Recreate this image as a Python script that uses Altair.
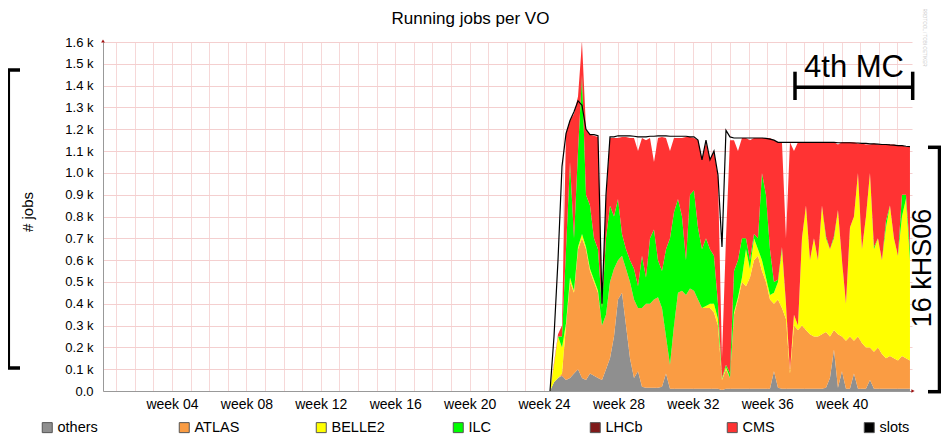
import altair as alt
import pandas as pd

FONT = "Liberation Sans"

# ---- time grid (ISO week number, fractional) ----
t_start = 24.32
t_step = 0.215

# ---- running jobs per VO ----
others = [0, 40, 60, 70, 50, 60, 80, 100, 60, 50,
          80, 70, 60, 50, 100, 150, 250, 420, 450, 300,
          150, 60, 90, 20, 15, 15, 15, 15, 20, 80,
          10, 10, 10, 10, 10, 10, 10, 10, 10, 10,
          10, 10, 10, 5, 10, 10, 10, 10, 10, 10,
          10, 10, 10, 10, 10, 10, 90, 15, 10, 10,
          10, 10, 10, 10, 10, 10, 10, 10, 10, 15,
          60, 190, 15, 90, 10, 10, 80, 10, 10, 10,
          50, 10, 10, 10, 10, 10, 10, 10, 10, 10, 10]
atlas = [0, 0, 0, 10, 250, 440, 370, 550, 640, 600,
         470, 430, 390, 250, 250, 350, 310, 180, 170, 260,
         350, 360, 290, 360, 385, 385, 405, 415, 360, 170,
         110, 290, 440, 450, 430, 460, 450, 410, 370, 370,
         370, 350, 290, 45, 90, 50, 340, 410, 490, 470,
         510, 590, 610, 540, 490, 410, 310, 405, 370, 320,
         70, 290, 270, 290, 270, 250, 240, 240, 250, 255,
         190, 90, 245, 160, 220, 240, 150, 240, 210, 190,
         150, 170, 190, 160, 140, 150, 140, 130, 150, 140, 130]
belle2 = [0, 80, 190, 120, 10, 20, 10, 10, 20, 10,
          10, 10, 10, 0, 0, 0, 0, 0, 0, 0,
          0, 0, 0, 0, 0, 0, 0, 0, 0, 0,
          0, 0, 0, 0, 0, 0, 0, 0, 0, 10,
          20, 40, 30, 5, 10, 0, 10, 10, 20, 170,
          40, 100, 30, 50, 20, 20, 50, 80, 270, 70,
          10, 50, 20, 400, 570, 340, 450, 350, 590, 430,
          400, 420, 570, 350, 170, 500, 570, 750, 430, 600,
          800, 470, 500, 430, 600, 690, 550, 480, 640, 730, 460]
ilc = [0, 0, 0, 50, 340, 530, 240, 440, 730, 240,
       290, 190, 190, 80, 350, 350, 240, 280, 100, 90,
       100, 140, 100, 240, 120, 300, 320, 170, 170, 400,
       580, 520, 430, 340, 160, 430, 460, 330, 270, 310,
       250, 220, 70, 5, 10, 20, 190, 170, 180, 50,
       40, 20, 50, 400, 380, 210, 50, 10, 10, 0,
       0, 0, 0, 0, 0, 0, 0, 0, 0, 10,
       0, 10, 0, 0, 0, 0, 0, 0, 0, 0,
       0, 10, 0, 0, 30, 0, 0, 0, 100, 20, 50]
cms = [0, 10, 10, 50, 530, 190, 570, 250, 150, 300,
       325, 470, 515, 10, 180, 310, 360, 280, 445, 515,
       560, 600, 620, 540, 630, 460, 310, 560, 615, 510,
       400, 340, 280, 360, 565, 265, 240, 400, 410, 440,
       410, 480, 580, 90, 580, 1070, 600, 500, 460, 460,
       550, 440, 460, 160, 260, 510, 650, 630, 480, 300,
       1050, 750, 840, 440, 290, 540, 440, 540, 290, 430,
       490, 430, 300, 540, 740, 390, 340, 135, 485, 330,
       130, 475, 430, 530, 350, 280, 430, 505, 225, 220, 470]
slots = [0, 250, 600, 1030, 1180, 1240, 1280, 1330, 1310, 1200,
         1175, 1175, 1170, 400, 900, 1165, 1165, 1170, 1170, 1170,
         1170, 1168, 1165, 1165, 1165, 1168, 1168, 1170, 1170, 1170,
         1168, 1168, 1168, 1168, 1168, 1165, 1165, 1150, 1060, 1150,
         1060, 1100, 990, 660, 1195, 1165, 1160, 1160, 1160, 1160,
         1160, 1160, 1160, 1160, 1158, 1155, 1150, 1140, 1140, 1140,
         1140, 1140, 1140, 1140, 1140, 1140, 1140, 1140, 1140, 1140,
         1140, 1140, 1138, 1138, 1138, 1138, 1137, 1137, 1135, 1135,
         1133, 1133, 1132, 1130, 1130, 1128, 1127, 1125, 1125, 1122, 1120]

vo_names = ["others", "ATLAS", "BELLE2", "ILC", "LHCb", "CMS", "slots"]
vo_colors = ["#8f8f8f", "#fa9c43", "#ffff00", "#00ff00", "#7f1a1a", "#ff3333", "#000000"]
week_grid = list(range(1, 44))
y_ticks = list(range(0, 1700, 100))

n = len(slots)
weeks = [round(t_start + i * t_step, 4) for i in range(n)]

series = [("others", others), ("ATLAS", atlas), ("BELLE2", belle2), ("ILC", ilc), ("CMS", cms)]
rows = []
for k, (name, vals) in enumerate(series):
    for w, v in zip(weeks, vals):
        rows.append({"week": w, "jobs": v, "vo": name, "ord": k})
df = pd.DataFrame(rows)
df_slots = pd.DataFrame({"week": weeks, "slots": slots})
one = pd.DataFrame({"k": [0]})

x_scale = alt.Scale(domain=[0.29, 43.78], nice=False, zero=False)
y_scale = alt.Scale(domain=[0, 1600], nice=False)
x_axis = alt.Axis(
    values=week_grid,
    labelExpr="datum.value % 4 == 0 ? 'week ' + (datum.value < 10 ? '0' : '') + datum.value : ''",
    grid=True, gridColor="#f6d8d8", gridWidth=1, ticks=False,
    domainColor="#999999", labelFont=FONT, labelFontSize=14, labelColor="#000000",
    labelPadding=6, labelOverlap=False, labelFlush=False, title=None,
)
y_axis = alt.Axis(
    values=y_ticks,
    labelExpr="datum.value == 0 ? '0.0' : format(datum.value / 1000, '.1f') + ' k'",
    grid=True, gridColor="#f4cfcf", gridWidth=1, ticks=False,
    domainColor="#999999", labelFont=FONT, labelFontSize=13, labelColor="#000000",
    labelPadding=10, title=None,
)

areas = alt.Chart(df).mark_area(interpolate="linear").encode(
    x=alt.X("week:Q", scale=x_scale, axis=x_axis),
    y=alt.Y("jobs:Q", stack="zero", scale=y_scale, axis=y_axis),
    color=alt.Color(
        "vo:N",
        scale=alt.Scale(domain=vo_names, range=vo_colors),
        legend=alt.Legend(
            title=None, orient="none", legendX=-63, legendY=378,
            direction="horizontal", columns=7, columnPadding=66, gridAlign="all",
            symbolType="square", symbolSize=100, symbolStrokeColor="#555555",
            symbolStrokeWidth=1, symbolOpacity=1, labelFont=FONT, labelFontSize=14.5,
            labelColor="#000000", labelOffset=3, padding=0,
        ),
    ),
    order=alt.Order("ord:Q"),
)

line = alt.Chart(df_slots).mark_line(color="black", strokeWidth=1.2).encode(
    x=alt.X("week:Q", scale=x_scale, axis=x_axis),
    y=alt.Y("slots:Q", scale=y_scale, axis=y_axis),
)

# axis arrow heads
arrow_up = alt.Chart(one).mark_point(shape="triangle-up", filled=True, size=14, color="#a01010", opacity=1).encode(
    x=alt.value(0), y=alt.value(-1))
arrow_right = alt.Chart(one).mark_point(shape="triangle-right", filled=True, size=14, color="#a01010", opacity=1).encode(
    x=alt.value(810), y=alt.value(349))


def txt(s, x, y, size, angle=0, align="center", baseline="middle", color="#000000"):
    kw = dict(text=s, font=FONT, fontSize=size, align=align, baseline=baseline, color=color)
    if angle:
        kw["angle"] = angle
    return alt.Chart(one).mark_text(**kw).encode(x=alt.value(x), y=alt.value(y))


def rule(x, y, x2=None, y2=None, w=3.5):
    enc = dict(x=alt.value(x), y=alt.value(y))
    if x2 is not None:
        enc["x2"] = alt.value(x2)
    if y2 is not None:
        enc["y2"] = alt.value(y2)
    return alt.Chart(one).mark_rule(color="black", strokeWidth=w).encode(**enc)


title = txt("Running jobs per VO", 367.5, -18.5, 17, baseline="alphabetic")
ytitle = txt("# jobs", -75.5, 170, 15, angle=270)
mc_text = txt("4th MC", 751, 35, 31, baseline="alphabetic")
khs_text = txt("16 kHS06", 820, 226, 27, angle=270)
left_text = txt("24 kHS06", -114, 180, 27, angle=270)
watermark = txt("RRDTOOL / TOBI OETIKER", 821, -4.5, 4.6, angle=90, color="#c8c8c8")

brackets = [
    rule(-94.7, 28, y2=326), rule(-103, 28, x2=-83), rule(-103, 326, x2=-83),
    rule(836.5, 105.3, y2=349.7), rule(825, 105.3, x2=840), rule(825, 349.7, x2=840),
    rule(692, 45.3, x2=809.7), rule(692, 29.7, y2=58), rule(809.7, 29.7, y2=58),
]

chart = alt.layer(
    areas, line, arrow_up, arrow_right, title, ytitle, mc_text, khs_text, left_text, watermark, *brackets
).properties(
    width=809, height=349,
    autosize=alt.AutoSizeParams(type="none"),
    padding={"left": 95, "top": 34, "right": 29, "bottom": 43},
    background="white",
).configure_view(stroke=None)

chart.save("out.html", embed_options={"renderer": "svg", "actions": False})
